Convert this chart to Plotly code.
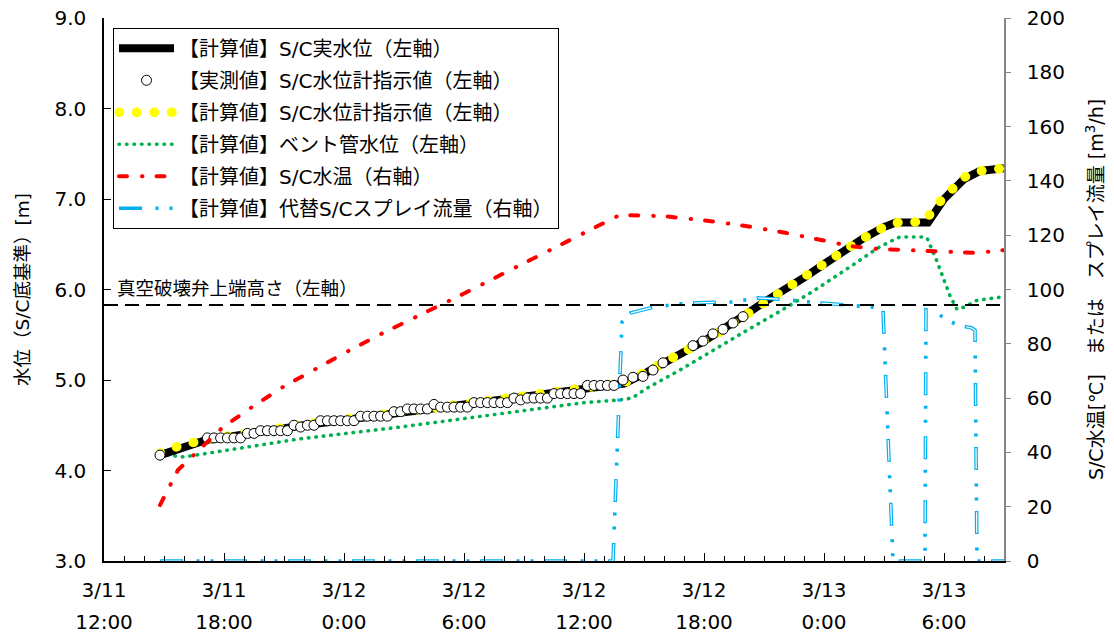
import pandas as pd
import plotly.graph_objects as go

BASE = pd.Timestamp("2011-03-11 12:00")
END_H = 45  # axis end: 3/13 9:00

# ---- data (time in hours from 3/11 12:00) ----
# 【計算値】S/C実水位 [m]
level_h = [2.8, 5, 10, 15, 20, 25, 26, 27, 28, 29, 30, 31, 32, 33, 34, 35, 36, 37, 38, 39, 39.6,
           41.2, 42, 43, 43.8, 45]
level_m = [4.17, 4.33, 4.50, 4.64, 4.78, 4.91, 4.96, 5.07, 5.18, 5.31, 5.43, 5.56, 5.71, 5.86, 5.99,
           6.13, 6.28, 6.43, 6.57, 6.69, 6.74, 6.74, 7.00, 7.22, 7.31, 7.34]

# 【計算値】S/C水位計指示値 [m]
gauge_h = [2.8, 3.6, 5, 10, 15, 20, 25, 26, 27, 28, 29, 30, 31, 32, 33, 34, 35, 36, 37, 38, 39,
           39.7, 41.0, 41.8, 42.4, 43, 43.8, 45]
gauge_m = [4.19, 4.26, 4.34, 4.51, 4.65, 4.79, 4.92, 4.97, 5.08, 5.19, 5.31, 5.43, 5.56, 5.71, 5.86,
           5.99, 6.13, 6.28, 6.43, 6.57, 6.69, 6.74, 6.75, 6.97, 7.12, 7.24, 7.31, 7.34]

# 【実測値】S/C水位計指示値 [m]
meas_h = [2.8, 5.17, 5.5, 5.83, 6.17, 6.5, 6.83, 7.17, 7.5, 7.83, 8.17, 8.5, 8.83, 9.17, 9.5, 9.83,
          10.17, 10.5, 10.83, 11.17, 11.5, 11.83, 12.17, 12.5, 12.83, 13.17, 13.5, 13.83, 14.17,
          14.5, 14.83, 15.17, 15.5, 15.83, 16.17, 16.5, 16.83, 17.17, 17.5, 17.83, 18.17, 18.5,
          18.83, 19.17, 19.5, 19.83, 20.17, 20.5, 20.83, 21.17, 21.5, 21.83, 22.17, 22.5, 22.83,
          23.17, 23.5, 23.83, 24.17, 24.5, 24.83, 25.17, 25.5, 25.95, 26.45, 26.95, 27.45, 27.95,
          29.45, 29.95, 30.45, 30.95, 31.45, 31.95]
meas_m = [4.17, 4.36, 4.36, 4.36, 4.36, 4.36, 4.36, 4.41, 4.41, 4.44, 4.44, 4.44, 4.44, 4.44, 4.50,
          4.48, 4.50, 4.50, 4.55, 4.55, 4.55, 4.55, 4.55, 4.55, 4.60, 4.60, 4.60, 4.60, 4.60, 4.65,
          4.65, 4.68, 4.68, 4.68, 4.68, 4.73, 4.70, 4.70, 4.70, 4.70, 4.70, 4.75, 4.75, 4.75, 4.75,
          4.75, 4.75, 4.80, 4.78, 4.80, 4.80, 4.80, 4.80, 4.85, 4.85, 4.85, 4.85, 4.85, 4.94, 4.94,
          4.94, 4.94, 4.94, 5.00, 5.03, 5.04, 5.11, 5.19, 5.38, 5.43, 5.51, 5.56, 5.63, 5.70]

# 【計算値】ベント管水位 [m]
vent_h = [2.8, 4, 9.8, 14.8, 24, 25.8, 26.4, 27.15, 28.8, 30.45, 32.15, 33.8, 35.45, 37.3, 38.05,
          38.7, 39.4, 39.8, 40.9, 41.15, 41.6, 42.05, 42.3, 42.65, 43.05, 43.65, 45]
vent_m = [4.18, 4.15, 4.35, 4.48, 4.75, 4.78, 4.80, 4.91, 5.11, 5.33, 5.55, 5.76, 5.98, 6.25, 6.36,
          6.46, 6.54, 6.58, 6.58, 6.57, 6.34, 6.08, 5.93, 5.78, 5.81, 5.88, 5.92]

# 【計算値】S/C水温 [℃]
temp_h = [2.8, 3.7, 5.9, 7.4, 8.95, 10.65, 12.3, 13.95, 14.8, 16, 18, 20, 22, 24, 25.8, 28, 30,
          32, 34, 36, 37.3, 38.5, 40, 42, 43.6, 45]
temp_c = [20.6, 33.5, 49, 56.7, 64.1, 71.1, 77.7, 84, 87, 91.5, 98.5, 106, 113.5, 121, 127.5, 127,
          125.5, 123.5, 121, 118, 116, 115, 114.5, 114, 113.5, 114.5]

# 【計算値】代替S/Cスプレイ流量 [m3/h]
spray_h = [2.8, 25.45, 25.9, 26.3, 27.5, 28.8, 30, 31.4, 32.7, 34, 35.9, 37.2, 38.45, 38.95, 39.45,
           41.05, 41.1, 41.65, 42.15, 42.7, 43.4, 43.55, 43.65, 45]
spray_q = [0, 0, 88, 91.3, 93.5, 94.7, 95.2, 95.4, 96.9, 96.3, 95, 94.3, 93.5, 92.4, 0,
           0, 92.5, 91.3, 88.8, 86.9, 85.8, 85, 0, 0]

VALVE_TOP = 5.83  # 真空破壊弁上端高さ [m]

FONT = "DejaVu Sans, Noto Sans CJK JP, sans-serif"
BLUE = "#00B0F0"


def at(hours):
    return [BASE + pd.Timedelta(hours=h) for h in hours]


fig = go.Figure()

# primary axis series
fig.add_trace(go.Scatter(x=at(vent_h), y=vent_m, mode="lines", name="【計算値】ベント管水位（左軸）",
                         line=dict(color="#00B050", width=3.6, dash="0.5px,7px"), meta="round",
                         legendrank=4, legendgroup="g4"))
fig.add_trace(go.Scatter(x=at(level_h), y=level_m, mode="lines", name="【計算値】S/C実水位（左軸）",
                         line=dict(color="black", width=8), legendrank=1, legendgroup="g1"))
fig.add_trace(go.Scatter(x=at(gauge_h), y=gauge_m, mode="lines", name="【計算値】S/C水位計指示値（左軸）",
                         line=dict(color="#FFFF00", width=9.5, dash="0.5px,17px"), meta="round",
                         legendrank=3, legendgroup="g3"))
fig.add_trace(go.Scatter(x=at(meas_h), y=meas_m, mode="markers", name="【実測値】S/C水位計指示値（左軸）",
                         marker=dict(symbol="circle", size=10, color="white",
                                     line=dict(color="black", width=1)),
                         legendrank=2, legendgroup="g2"))

# secondary axis series
fig.add_trace(go.Scatter(x=at(temp_h), y=temp_c, mode="lines", yaxis="y2", name="【計算値】S/C水温（右軸）",
                         line=dict(color="#FF0000", width=4, dash="8px,15px,0.5px,14px"), meta="round",
                         legendrank=5, legendgroup="g5"))
fig.add_trace(go.Scatter(x=at(spray_h), y=spray_q, mode="lines", yaxis="y2",
                         name="【計算値】代替S/Cスプレイ流量（右軸）",
                         line=dict(color=BLUE, width=3.6, dash="23px,13.5px,3px,11px,3px,10.5px"),
                         legendrank=6, legendgroup="g6"))
fig.add_trace(go.Scatter(x=at(spray_h), y=spray_q, mode="lines", yaxis="y2", showlegend=False,
                         hoverinfo="skip",
                         line=dict(color="white", width=1.2, dash="0px,1.2px,20.6px,42.2px"),
                         legendgroup="g6"))

# carrier for the second row of date labels
fig.add_trace(go.Scatter(x=at([0, END_H]), y=[None, None], xaxis="x2", mode="lines",
                         showlegend=False, hoverinfo="skip"))

fig.add_shape(type="line", xref="paper", x0=0, x1=1, yref="y", y0=VALVE_TOP, y1=VALVE_TOP,
              line=dict(color="black", width=2, dash="14px,7px"))
fig.add_annotation(text="真空破壊弁上端高さ（左軸）", xref="paper", x=0.012, xanchor="left",
                   yref="y", y=VALVE_TOP, yanchor="middle", yshift=16, showarrow=False,
                   font=dict(family=FONT, size=18.5, color="black"))

x_range = at([0, END_H])
fig.update_layout(
    width=1114, height=641,
    margin=dict(l=104, r=110, t=18, b=80, autoexpand=False),
    paper_bgcolor="white", plot_bgcolor="white",
    font=dict(family=FONT, color="black"),
    showlegend=True,
    legend=dict(x=0.01, y=0.982, xanchor="left", yanchor="top", bgcolor="white",
                bordercolor="black", borderwidth=1, traceorder="grouped", tracegroupgap=3,
                font=dict(family=FONT, size=20, color="black"), itemwidth=55),
    xaxis=dict(type="date", range=x_range, tickformat="%-m/%-d", dtick=6 * 3600000,
               tick0="2011-03-11 00:00", ticks="inside", ticklen=8, tickcolor="black",
               showline=True, linecolor="black", linewidth=1.5, showgrid=False, zeroline=False,
               tickfont=dict(family=FONT, size=20), ticklabelstandoff=10, automargin=False,
               minor=dict(dtick=3600000, ticks="inside", ticklen=5, tickcolor="black", showgrid=False)),
    xaxis2=dict(type="date", range=x_range, overlaying="x", anchor="y", side="bottom",
                tickformat="%-H:%M", dtick=6 * 3600000, tick0="2011-03-11 00:00", ticks="",
                showline=False, showgrid=False, zeroline=False, automargin=False,
                tickfont=dict(family=FONT, size=20), ticklabelstandoff=47),
    yaxis=dict(range=[3, 9], dtick=1, tickformat=".1f", ticks="inside", ticklen=7, tickcolor="black",
               showline=True, linecolor="black", linewidth=1.5, showgrid=False, zeroline=False,
               tickfont=dict(family=FONT, size=20), ticklabelstandoff=12, automargin=False,
               title=dict(text="水位（S/C底基準）[m]", font=dict(family=FONT, size=18.5), standoff=20)),
    yaxis2=dict(range=[0, 200], dtick=20, overlaying="y", side="right", ticks="outside", ticklen=5,
                tickcolor="#868686", showline=True, linecolor="#868686", linewidth=1.5,
                showgrid=False, zeroline=False, tickfont=dict(family=FONT, size=20),
                ticklabelstandoff=12, automargin=False,
                title=dict(text="S/C水温[℃]　または　スプレイ流量 [m<sup>3</sup>/h]",
                           font=dict(family=FONT, size=19), standoff=26)),
)

ROUND_CAPS = """
var gd = document.getElementById('{plot_id}');
function roundCaps() {
  gd.querySelectorAll('g.trace, g.traces').forEach(function (g) {
    var d = g.__data__;
    if (!d || !d[0] || !d[0].trace) return;
    if (d[0].trace.meta === 'round') {
      g.querySelectorAll('path').forEach(function (p) { p.style.strokeLinecap = 'round'; });
    }
  });
}
roundCaps();
gd.on('plotly_afterplot', roundCaps);
"""

fig.write_html("out.html", post_script=ROUND_CAPS)
